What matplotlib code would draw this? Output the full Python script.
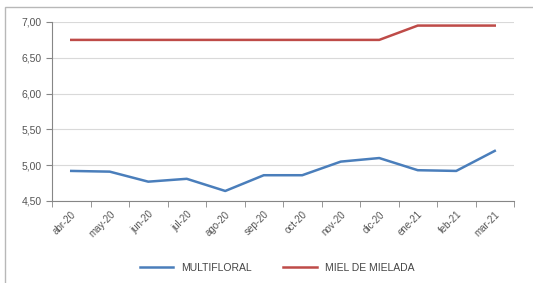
import matplotlib.pyplot as plt
from matplotlib.patches import Rectangle
from matplotlib.ticker import FuncFormatter

meses = ['abr-20', 'may-20', 'jun-20', 'jul-20', 'ago-20', 'sep-20',
         'oct-20', 'nov-20', 'dic-20', 'ene-21', 'feb-21', 'mar-21']
multifloral = [4.92, 4.91, 4.77, 4.81, 4.64, 4.86, 4.86, 5.05, 5.10, 4.93, 4.92, 5.20]
mielada = [6.75, 6.75, 6.75, 6.75, 6.75, 6.75, 6.75, 6.75, 6.75, 6.95, 6.95, 6.95]
yticks = [4.5, 5.0, 5.5, 6.0, 6.5, 7.0]

plt.rcParams['font.family'] = ['Liberation Sans', 'DejaVu Sans']
fig = plt.figure(figsize=(5.33, 2.83), dpi=100)
# marco exterior
fig.patches.append(Rectangle((5 / 533, -0.1), 1.2, 1 - 7 / 283 + 0.1,
                             transform=fig.transFigure, fill=False,
                             edgecolor='#b8b8b8', lw=1))
ax = fig.add_axes([52 / 533, 1 - 201 / 283, (514 - 52) / 533, (201 - 22) / 283])

x = range(len(meses))
ax.plot(x, multifloral, color='#4a7ebb', lw=1.8, label='MULTIFLORAL')
ax.plot(x, mielada, color='#be4b48', lw=1.8, label='MIEL DE MIELADA')

ax.set_xlim(-0.5, len(meses) - 0.5)
ax.set_ylim(4.5, 7.0)
ax.set_yticks(yticks)
ax.yaxis.set_major_formatter(FuncFormatter(lambda v, p: f'{v:.2f}'.replace('.', ',')))
ax.set_xticks(list(x))
ax.set_xticklabels(meses, rotation=45, ha='right', rotation_mode='anchor')
ax.set_xticks([i - 0.5 for i in range(len(meses) + 1)], minor=True)
ax.tick_params(axis='x', which='major', length=0, pad=6, labelsize=7, labelcolor='#555555')
ax.tick_params(axis='x', which='minor', length=4, color='#868686')
ax.tick_params(axis='y', length=4, color='#868686', labelsize=7.5, labelcolor='#555555')
ax.grid(axis='y', color='#d9d9d9', lw=0.8)
ax.set_axisbelow(True)
for s in ['top', 'right']:
    ax.spines[s].set_visible(False)
for s in ['left', 'bottom']:
    ax.spines[s].set_color('#868686')

fig.legend(loc='center', bbox_to_anchor=(0.52, 1 - 268 / 283), ncol=2, frameon=False,
           fontsize=7.5, handlelength=3.2, columnspacing=3, labelcolor='#444444')

fig.savefig('out.png', dpi=100)
